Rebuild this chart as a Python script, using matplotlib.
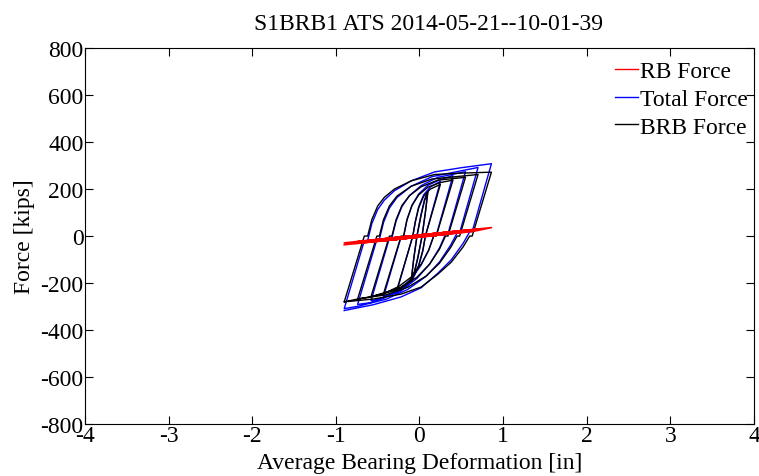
import matplotlib
matplotlib.use("Agg")
import matplotlib.pyplot as plt
from matplotlib.lines import Line2D

plt.rcParams['font.family'] = ['Liberation Serif', 'DejaVu Serif']

title = "S1BRB1 ATS 2014-05-21--10-01-39"
x_label = "Average Bearing Deformation [in]"
y_label = "Force [kips]"
x_ticks = [-4, -3, -2, -1, 0, 1, 2, 3, 4]
y_ticks = [-800, -600, -400, -200, 0, 200, 400, 600, 800]
series_names = ["RB Force", "Total Force", "BRB Force"]

# Each cycle: deformation [in], BRB force [kips], RB force [kips]
cycle1_disp = [-0.10, -0.07, -0.03, 0.02, 0.06, 0.10, 0.07, 0.03, -0.02, -0.06, -0.10]
cycle1_brb = [-190, -100, 0, 90, 150, 185, 100, 0, -90, -150, -190]
cycle1_rb = [-6, 1, 3, 5, 6, 8, -1, -3, -5, -6, -8]

cycle2_disp = [-0.27, -0.08, -0.05, -0.01, 0.05, 0.13, 0.25, 0.07, 0.04, -0.01, -0.08, -0.17, -0.27]
cycle2_brb = [-228, 0, 60, 120, 170, 200, 220, 0, -60, -125, -175, -210, -228]
cycle2_rb = [-6, 1, 2, 4, 6, 9, 13, -1, -3, -4, -7, -10, -14]

cycle3_disp = [-0.43, -0.22, -0.19, -0.15, -0.09, -0.01, 0.10, 0.25, 0.40,
               0.20, 0.17, 0.11, 0.02, -0.10, -0.25, -0.43]
cycle3_brb = [-245, 0, 0, 70, 130, 175, 208, 228, 238,
              0, 0, -60, -120, -175, -215, -245]
cycle3_rb = [-12, -4, -3, -2, 1, 4, 8, 13, 19,
             3, 2, 0, -3, -8, -13, -20]

cycle4_disp = [-0.58, -0.36, -0.33, -0.28, -0.21, -0.12, 0.02, 0.22, 0.55,
               0.34, 0.31, 0.24, 0.12, -0.03, -0.22, -0.58]
cycle4_brb = [-258, 0, 0, 70, 130, 172, 210, 238, 250,
              0, 0, -55, -120, -175, -220, -258]
cycle4_rb = [-17, -9, -8, -6, -4, 0, 5, 12, 24,
             9, 7, 5, 0, -5, -12, -25]

cycle5_disp = [-0.74, -0.51, -0.48, -0.43, -0.36, -0.27, -0.10, 0.15, 0.70,
               0.48, 0.45, 0.37, 0.24, 0.08, -0.14, -0.40, -0.74]
cycle5_brb = [-268, 0, 0, 70, 128, 170, 212, 243, 262,
              0, 0, -50, -115, -170, -218, -250, -268]
cycle5_rb = [-23, -15, -14, -12, -9, -6, 0, 10, 30,
             14, 13, 10, 5, -1, -9, -19, -31]

cycle6_disp = [-0.90, -0.66, -0.62, -0.57, -0.50, -0.42, -0.30, -0.10, 0.18, 0.50, 0.86,
               0.63, 0.60, 0.52, 0.38, 0.22, 0.02, -0.22, -0.55, -0.90]
cycle6_brb = [-280, 0, 0, 70, 128, 165, 200, 235, 262, 268, 272,
              0, 0, -47, -111, -162, -217, -247, -268, -280]
cycle6_rb = [-29, -20, -19, -17, -15, -12, -7, 0, 11, 23, 36,
             19, 18, 15, 10, 4, -3, -12, -24, -37]

disp = cycle1_disp + cycle2_disp + cycle3_disp + cycle4_disp + cycle5_disp + cycle6_disp
brb_force = cycle1_brb + cycle2_brb + cycle3_brb + cycle4_brb + cycle5_brb + cycle6_brb
rb_force = cycle1_rb + cycle2_rb + cycle3_rb + cycle4_rb + cycle5_rb + cycle6_rb
total_force = [b + r for b, r in zip(brb_force, rb_force)]

fig = plt.figure(figsize=(7.59, 4.77), dpi=100)
ax = fig.add_axes([0.112, 0.109, 0.8814, 0.788])

ax.plot(disp, total_force, color=(0, 0, 1), lw=1.0)
ax.plot(disp, brb_force, color='black', lw=1.0)
ax.plot(disp, rb_force, color=(1, 0, 0), lw=1.2)

ax.set_xlim(-4, 4)
ax.set_ylim(-800, 800)
ax.set_xticks(x_ticks)
ax.set_yticks(y_ticks)
ax.set_xticklabels([str(t) for t in x_ticks])
ax.set_yticklabels([str(t) for t in y_ticks])
ax.tick_params(direction='in', top=True, right=True, length=6, width=0.8,
               labelsize=17, pad=1)
for s in ax.spines.values():
    s.set_linewidth(0.8)

ax.set_title(title, fontsize=17, pad=14, x=0.514)
ax.set_xlabel(x_label, fontsize=17, labelpad=4)
ax.set_ylabel(y_label, fontsize=17, labelpad=4)

handles = [Line2D([], [], color=(1, 0, 0), lw=1.0),
           Line2D([], [], color=(0, 0, 1), lw=1.0),
           Line2D([], [], color='black', lw=1.0)]
leg = ax.legend(handles, series_names, loc='upper right', frameon=False,
                fontsize=17, handlelength=0.95, handletextpad=0.1,
                labelspacing=0.26, borderaxespad=0.0, borderpad=0.25,
                bbox_to_anchor=(1.0, 0.982))

fig.savefig("out.png", dpi=100)
